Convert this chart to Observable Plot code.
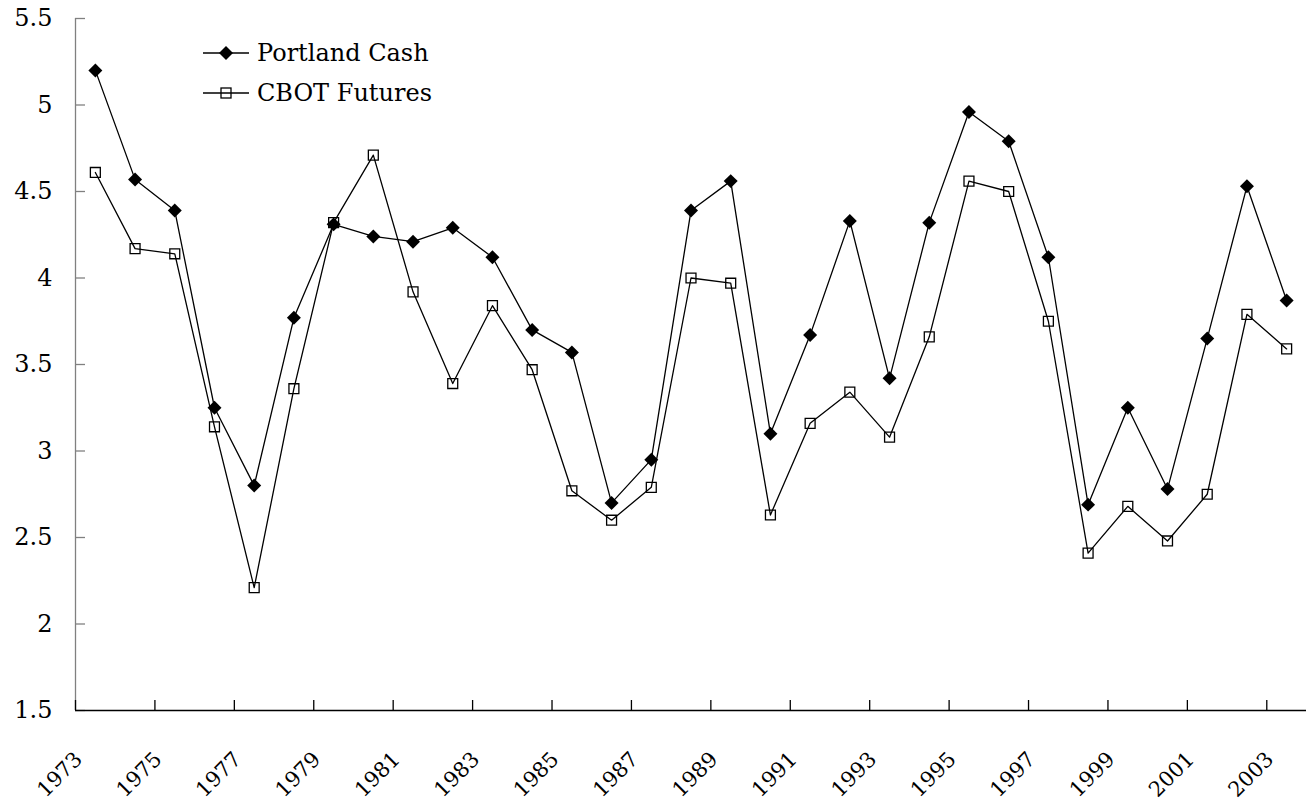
<!DOCTYPE html>
<html><head><meta charset="utf-8">
<script src="https://cdn.jsdelivr.net/npm/d3@7"></script>
<script src="https://cdn.jsdelivr.net/npm/@observablehq/plot@0.6"></script>
<style>
html,body{margin:0;padding:0;background:#fff;}
#wrap{position:relative;width:1316px;height:801px;}
#legend{position:absolute;left:203px;top:33px;font-family:"DejaVu Serif",serif;font-size:24px;color:#000;}
.row{display:flex;align-items:center;height:40px;}
.row svg{display:block;}
.row span{margin-left:8px;white-space:nowrap;}
</style></head><body>
<div id="wrap"><div id="chart"></div><div id="legend"></div></div>
<script>
const years = [1973,1974,1975,1976,1977,1978,1979,1980,1981,1982,1983,1984,1985,1986,1987,1988,1989,1990,1991,1992,1993,1994,1995,1996,1997,1998,1999,2000,2001,2002,2003];
const portlandCash = [5.20,4.57,4.39,3.25,2.80,3.77,4.31,4.24,4.21,4.29,4.12,3.70,3.57,2.70,2.95,4.39,4.56,3.10,3.67,4.33,3.42,4.32,4.96,4.79,4.12,2.69,3.25,2.78,3.65,4.53,3.87];
const cbotFutures = [4.61,4.17,4.14,3.14,2.21,3.36,4.32,4.71,3.92,3.39,3.84,3.47,2.77,2.60,2.79,4.00,3.97,2.63,3.16,3.34,3.08,3.66,4.56,4.50,3.75,2.41,2.68,2.48,2.75,3.79,3.59];
const yTicks = [1.5,2,2.5,3,3.5,4,4.5,5,5.5];
const xLabelYears = [1973,1975,1977,1979,1981,1983,1985,1987,1989,1991,1993,1995,1997,1999,2001,2003];
const seriesNames = ["Portland Cash","CBOT Futures"];

const cash = years.map((year,i)=>({year, value: portlandCash[i]}));
const cbot = years.map((year,i)=>({year, value: cbotFutures[i]}));
const FONT = "DejaVu Serif";

const chart = Plot.plot({
  width: 1316,
  height: 801,
  marginLeft: 75,
  marginRight: 10,
  marginTop: 18,
  marginBottom: 91,
  style: {fontFamily: FONT, fontSize: "22px", color: "#000", background: "#fff"},
  x: {domain: [years[0]-0.5, years[years.length-1]+0.5], label: null},
  y: {domain: [1.5, 5.5], label: null},
  marks: [
    Plot.ruleX([years[0]-0.5], {stroke: "#808080", strokeWidth: 1.3}),
    Plot.axisY({ticks: yTicks, tickFormat: d => String(d), tickSize: -10, tickPadding: 33, stroke: "#808080", fill: "#000", fontSize: 24, strokeWidth: 1.3}),
    Plot.axisX({ticks: xLabelYears.map(d => d - 0.5), tickSize: -10, tickFormat: () => "", stroke: "#000", strokeWidth: 1.3}),
    Plot.ruleY([1.5], {stroke: "#000", strokeWidth: 1.5}),
    Plot.text(xLabelYears, {x: d => d - 0.5, frameAnchor: "bottom", text: d => String(d), rotate: -45, textAnchor: "end", lineAnchor: "bottom", dx: 8, dy: 50, fontSize: 21, fill: "#000"}),
    Plot.line(cash, {x: "year", y: "value", stroke: "#000", strokeWidth: 1.3}),
    Plot.line(cbot, {x: "year", y: "value", stroke: "#000", strokeWidth: 1.3}),
    Plot.dot(cbot, {x: "year", y: "value", symbol: "square", r: 5.6, fill: "none", stroke: "#000", strokeWidth: 1.3}),
    Plot.dot(cash, {x: "year", y: "value", symbol: "diamond2", r: 6.3, fill: "#000", stroke: "none"})
  ]
});
document.getElementById("chart").appendChild(chart);

const legend = document.getElementById("legend");
const sym = [
  '<path d="M23,3 L30,10 L23,17 L16,10 Z" fill="#000"/>',
  '<rect x="18" y="5" width="10" height="10" fill="none" stroke="#000" stroke-width="1.3"/>'
];
seriesNames.forEach((name,i) => {
  const row = document.createElement("div");
  row.className = "row";
  row.innerHTML = `<svg width="46" height="20"><line x1="0" y1="10" x2="46" y2="10" stroke="#000" stroke-width="1.3"/>${sym[i]}</svg><span>${name}</span>`;
  legend.appendChild(row);
});
</script>
</body></html>
